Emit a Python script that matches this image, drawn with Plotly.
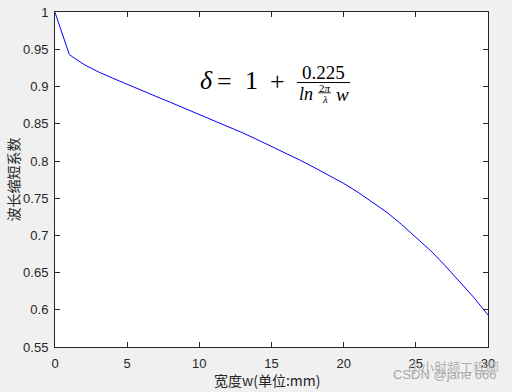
import plotly.graph_objects as go

# data
width_mm = [0, 1, 2, 3, 4, 5, 6, 7, 8, 9, 10, 11, 12, 13, 14, 15, 16, 17, 18, 19, 20,
            21, 22, 23, 24, 25, 26, 27, 28, 29, 30]
factor = [1.000, 0.943, 0.930, 0.920, 0.9115, 0.903, 0.895, 0.887, 0.879, 0.871, 0.863,
          0.855, 0.847, 0.838, 0.829, 0.820, 0.811, 0.801, 0.791, 0.781, 0.770,
          0.758, 0.745, 0.731, 0.715, 0.698, 0.680, 0.660, 0.639, 0.617, 0.593]
x_ticks = [0, 5, 10, 15, 20, 25, 30]
y_ticks = [0.55, 0.6, 0.65, 0.7, 0.75, 0.8, 0.85, 0.9, 0.95, 1.0]
y_ticktext = ["0.55", "0.6", "0.65", "0.7", "0.75", "0.8", "0.85", "0.9", "0.95", "1"]

W, H = 512, 392
L, R, T, B = 55, 488, 5, 347

def px(x):
    return (x - L) / (R - L)

def py(y):
    return (B - y) / (B - T)

fig = go.Figure()
fig.add_trace(go.Scatter(x=width_mm, y=factor, mode="lines",
                         line=dict(color="#0000ff", width=1), showlegend=False,
                         hoverinfo="skip"))

axis_common = dict(showline=True, linecolor="#262626", linewidth=1, mirror="ticks",
                   ticks="inside", ticklen=5, tickcolor="#262626", showgrid=False,
                   zeroline=False, ticklabeloverflow="allow",
                   tickfont=dict(family="Liberation Sans, Arial", size=13, color="#262626"))

fig.update_xaxes(range=[0, 30], tickvals=x_ticks, ticktext=[str(v) for v in x_ticks],
                 ticklabelstandoff=4, **axis_common)
fig.update_yaxes(range=[0.55, 1.0005], tickvals=y_ticks, ticktext=y_ticktext,
                 ticklabelstandoff=3, **axis_common)

serif = "Liberation Serif, DejaVu Serif, serif"
cjk = "Noto Sans CJK SC"
ann = []

def text(x, y, s, size, font=serif, color="#000000"):
    ann.append(dict(xref="paper", yref="paper", x=px(x), y=py(y), text=s, showarrow=False,
                    font=dict(family=font, size=size, color=color),
                    xanchor="center", yanchor="middle"))

# axis titles
text(267, 381, "宽度w(单位:mm)", 14, font=cjk, color="#262626")
ann.append(dict(xref="paper", yref="paper", x=px(12), y=py(176), text="波长缩短系数",
                showarrow=False, textangle=-90, font=dict(family=cjk, size=14, color="#262626"),
                xanchor="center", yanchor="middle"))

# formula
text(206, 75, "<i>δ</i>", 26)
text(224, 76, "=", 26)
text(251, 75, "1", 26)
text(277.5, 76, "+", 26)
text(323.5, 67, "0.225", 19)
text(305.5, 89, "<i>ln</i>", 18)
text(324.5, 82.5, "2<i>π</i>", 11)
text(324.5, 94, "<i>λ</i>", 11)
text(342.5, 89, "<i>w</i>", 19)

# watermark
text(445, 375, "CSDN @jane 666", 13, font="Liberation Sans, Arial", color="#a8a8a8")
text(453, 367, "小小射频工程师", 13, font=cjk, color="#b0b0b0")

shapes = [
    dict(type="line", xref="paper", yref="paper", x0=px(297), x1=px(350), y0=py(77), y1=py(77),
         line=dict(color="#000000", width=1)),
    dict(type="line", xref="paper", yref="paper", x0=px(318), x1=px(331), y0=py(87.5), y1=py(87.5),
         line=dict(color="#000000", width=0.8)),
]

fig.update_layout(width=W, height=H, margin=dict(l=L, r=W - R, t=T, b=H - B),
                  paper_bgcolor="#f0f0f0", plot_bgcolor="#ffffff",
                  annotations=ann, shapes=shapes)

fig.write_html("out.html")
